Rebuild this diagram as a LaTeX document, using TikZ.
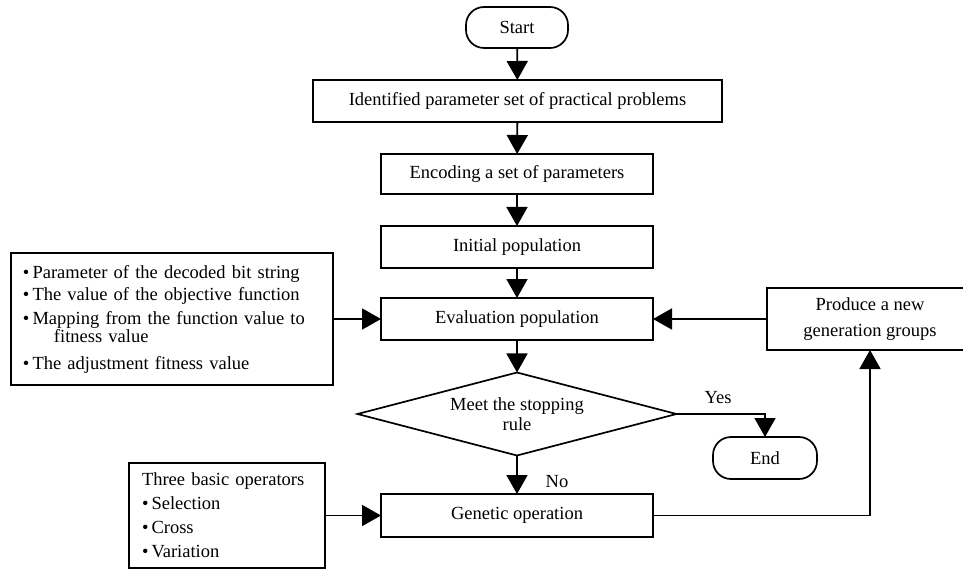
\documentclass[tikz,border=0pt]{standalone}
\usepackage{fontspec}
\setmainfont{Liberation Serif}
\usetikzlibrary{arrows.meta,shapes.geometric}
\begin{document}
\begin{tikzpicture}[x=1pt,y=-1pt,
  every node/.style={font=\fontsize{18.5}{22}\selectfont, inner sep=0pt, outer sep=0pt},
  box/.style={draw, line width=1.7pt, minimum height=42pt},
  term/.style={draw, line width=1.7pt, rounded corners=18pt},
  arr/.style={-{Triangle[width=21pt,length=19pt]}, line width=1.8pt}]
\useasboundingbox (0,0) rectangle (963,569);

\node[term, minimum width=102pt, minimum height=41pt] (start) at (517,27.5) {Start};
\node[box, minimum width=409pt] (b1) at (517.5,101) {Identified parameter set of practical problems};
\node[box, minimum width=272pt, minimum height=40pt] (b2) at (517,174) {Encoding a set of parameters};
\node[box, minimum width=272pt] (b3) at (517,247) {Initial population};
\node[box, minimum width=272pt] (b4) at (517,319) {Evaluation population};
\node[draw, line width=1.7pt, shape=diamond, aspect=3.84, minimum width=319pt, minimum height=83pt,
      align=center, font=\fontsize{18.5}{20}\selectfont] (dia) at (517,414) {Meet the stopping\\rule};
\node[box, minimum width=272pt, minimum height=43pt] (gen) at (517,515.5) {Genetic operation};
\node[term, minimum width=104pt, minimum height=42pt] (end) at (765,458) {End};

\node[box, minimum width=322pt, minimum height=132pt, text width=298pt, align=left] (lb) at (172,319)
  {\textbullet\,Parameter of the decoded bit string\\
   \textbullet\,The value of the objective function\\[2pt]
   \textbullet\,Mapping from the function value to\\[-4pt]
   \hspace*{31pt}fitness value\\[5pt]
   \textbullet\,The adjustment fitness value};

\node[box, minimum width=196pt, minimum height=105pt, text width=170pt, align=left,
      font=\fontsize{18.5}{24}\selectfont] (bl) at (227,515.5)
  {Three basic operators\\
   \textbullet\,Selection\\
   \textbullet\,Cross\\
   \textbullet\,Variation};

\node[box, minimum width=206pt, minimum height=62pt, align=center,
      font=\fontsize{18.5}{26}\selectfont] (rb) at (870,319) {Produce a new\\generation groups};

\draw[arr] (start) -- (b1);
\draw[arr] (b1) -- (b2);
\draw[arr] (b2) -- (b3);
\draw[arr] (b3) -- (b4);
\draw[arr] (b4) -- (dia);
\draw[arr] (dia) -- (gen);
\draw[arr] (lb.east) -- (b4.west);
\draw[arr] (rb.west) -- (b4.east);
\draw[arr] (bl.east) -- (gen.west);
\draw[arr] (gen.east) -| (rb.south);
\draw[arr] (dia.east) -| (end.north);

\node (yes) at (718,398) {Yes};
\node (no) at (557,482) {No};
\end{tikzpicture}
\end{document}
